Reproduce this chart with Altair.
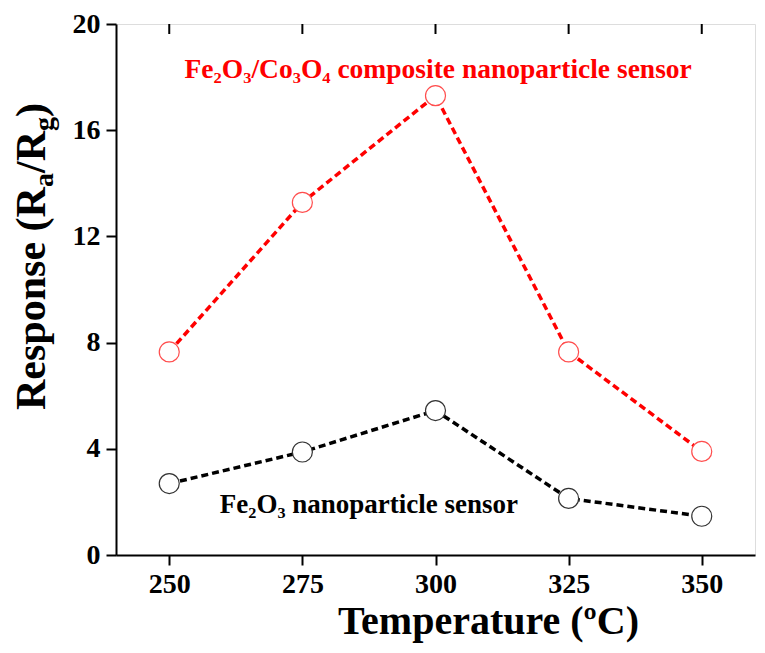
import altair as alt
import pandas as pd

temps = [250, 275, 300, 325, 350]
composite = [7.65, 13.28, 17.3, 7.65, 3.9]
fe2o3 = [2.69, 3.88, 5.44, 2.13, 1.46]
series_names = ["Fe2O3/Co3O4", "Fe2O3"]
x_ticks = [250, 275, 300, 325, 350]
y_ticks = [0, 4, 8, 12, 16, 20]

FONT = "Liberation Serif"

df = pd.DataFrame(
    {
        "T": temps * 2,
        "R": composite + fe2o3,
        "s": [series_names[0]] * 5 + [series_names[1]] * 5,
    }
)

xs = alt.Scale(domain=[240, 360], nice=False, zero=False)
ys = alt.Scale(domain=[0, 20], nice=False)

x_axis = alt.Axis(
    values=x_ticks, grid=False, title="Temperature (ºC)",
    labelFont=FONT, labelFontSize=28, labelFontWeight="bold", labelColor="black",
    labelPadding=5, tickSize=10, tickWidth=2, tickColor="black",
    domainColor="black", domainWidth=2,
    titleFont=FONT, titleFontSize=40, titleFontWeight="bold", titleColor="black",
    titleX=372, titleY=78, titleBaseline="alphabetic", titleAnchor="middle",
)
y_axis = alt.Axis(
    values=y_ticks, grid=False, title=None,
    labelFont=FONT, labelFontSize=28, labelFontWeight="bold", labelColor="black",
    labelPadding=6, tickSize=10, tickWidth=2, tickColor="black",
    domainColor="black", domainWidth=2,
)

color = alt.Color("s:N", scale=alt.Scale(domain=series_names, range=["#ff0000", "#000000"]), legend=None)
stroke = alt.Stroke("s:N", scale=alt.Scale(domain=series_names, range=["#ff4d4d", "#333333"]), legend=None)

base = alt.Chart(df)
lines = base.mark_line(strokeDash=[7, 4], strokeWidth=3.5).encode(
    x=alt.X("T:Q", scale=xs, axis=x_axis),
    y=alt.Y("R:Q", scale=ys, axis=y_axis),
    color=color,
)
points = base.mark_point(shape="circle", filled=False, fill="white", fillOpacity=1, size=400, strokeWidth=1.2, opacity=1).encode(
    x=alt.X("T:Q", scale=xs),
    y=alt.Y("R:Q", scale=ys),
    stroke=stroke,
)

top_ticks = alt.Chart(pd.DataFrame({"t": x_ticks})).mark_rule(color="black", strokeWidth=2).encode(
    x=alt.X("t:Q", scale=xs), y=alt.value(0), y2=alt.value(10)
)

red_label = alt.Chart(pd.DataFrame({"x": [300.5], "y": [18.25], "t": ["Fe₂O₃/Co₃O₄ composite nanoparticle sensor"]})).mark_text(
    font=FONT, fontSize=27.5, fontWeight="bold", color="#ff0000", align="center", baseline="middle"
).encode(x=alt.X("x:Q", scale=xs), y=alt.Y("y:Q", scale=ys), text="t:N")

black_label = alt.Chart(pd.DataFrame({"x": [287.5], "y": [1.88], "t": ["Fe₂O₃ nanoparticle sensor"]})).mark_text(
    font=FONT, fontSize=27, fontWeight="bold", color="black", align="center", baseline="middle"
).encode(x=alt.X("x:Q", scale=xs), y=alt.Y("y:Q", scale=ys), text="t:N")

# rotated y-axis title composed of pieces (for subscripts)
title_parts = ["Response (R", "a", "/R", "g", ")"]
title_sizes = [42, 28, 42, 28, 42]
title_pos = [386, 163, 149, 107, 93]
title_dx = [-71, -63, -71, -63, -71]
ytitle_layers = []
for t, fs, py, px in zip(title_parts, title_sizes, title_pos, title_dx):
    ytitle_layers.append(
        alt.Chart(pd.DataFrame({"t": [t]})).mark_text(
            font=FONT, fontSize=fs, fontWeight="bold", color="black", align="left",
            baseline="alphabetic", angle=270,
        ).encode(x=alt.value(px), y=alt.value(py), text="t:N")
    )

chart = alt.layer(lines, points, top_ticks, red_label, black_label, *ytitle_layers).properties(
    width=639, height=531,
    autosize=alt.AutoSizeParams(type="none"),
    padding={"left": 108, "top": 16, "right": 2, "bottom": 88},
).configure_view(stroke="black", strokeWidth=2).configure(background="white")

chart.save("out.html", embed_options={"renderer": "svg", "actions": False})
